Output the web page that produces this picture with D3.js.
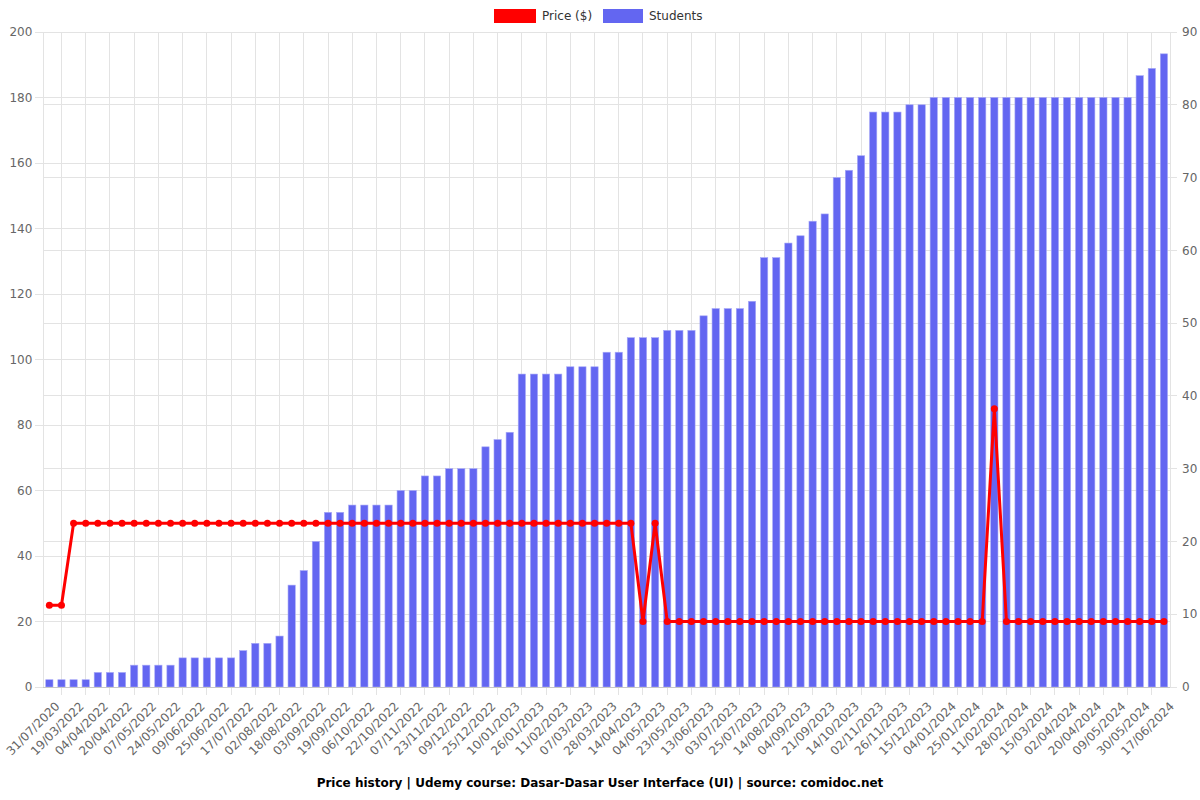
<!DOCTYPE html>
<html><head><meta charset="utf-8">
<script src="https://cdn.jsdelivr.net/npm/d3@7/dist/d3.min.js"></script>
<style>
body{margin:0;background:#fff;}
svg{display:block;font-family:"DejaVu Sans",sans-serif;}
</style></head>
<body><svg id="c" width="1200" height="800"></svg>
<script>
// Labels shown on every second category (indices 0,2,4,...,92)
const dateLabels = ["31/07/2020","19/03/2022","04/04/2022","20/04/2022","07/05/2022","24/05/2022","09/06/2022","25/06/2022","17/07/2022","02/08/2022","18/08/2022","03/09/2022","19/09/2022","06/10/2022","22/10/2022","07/11/2022","23/11/2022","09/12/2022","25/12/2022","10/01/2023","26/01/2023","11/02/2023","07/03/2023","28/03/2023","14/04/2023","04/05/2023","23/05/2023","13/06/2023","03/07/2023","25/07/2023","14/08/2023","04/09/2023","21/09/2023","14/10/2023","02/11/2023","26/11/2023","15/12/2023","04/01/2024","25/01/2024","11/02/2024","28/02/2024","15/03/2024","02/04/2024","20/04/2024","09/05/2024","30/05/2024","17/06/2024"];

const students = [1,1,1,1,2,2,2,3,3,3,3,4,4,4,4,4,5,6,6,7,14,16,20,24,24,25,25,25,25,27,27,29,29,30,30,30,33,34,35,43,43,43,43,44,44,44,46,46,48,48,48,49,49,49,51,52,52,52,53,59,59,61,62,64,65,70,71,73,79,79,79,80,80,81,81,81,81,81,81,81,81,81,81,81,81,81,81,81,81,81,84,85,87];

const price = [25,25,50,50,50,50,50,50,50,50,50,50,50,50,50,50,50,50,50,50,50,50,50,50,50,50,50,50,50,50,50,50,50,50,50,50,50,50,50,50,50,50,50,50,50,50,50,50,50,20,50,20,20,20,20,20,20,20,20,20,20,20,20,20,20,20,20,20,20,20,20,20,20,20,20,20,20,20,85,20,20,20,20,20,20,20,20,20,20,20,20,20,20];

const leftTicks = [0,20,40,60,80,100,120,140,160,180,200];
const rightTicks = [0,10,20,30,40,50,60,70,80,90];
const seriesNames = ["Price ($)","Students"];
const title = "Price history | Udemy course: Dasar-Dasar User Interface (UI) | source: comidoc.net";

const svg = d3.select("#c");
const L = 43.3, R = 1170, T = 32, B = 687;
const idx = d3.range(students.length);
const x = d3.scaleBand().domain(idx).range([L, R]).padding(0);
const cx = i => x(i) + x.bandwidth()/2;
const yL = d3.scaleLinear().domain([0,200]).range([B,T]);
const yR = d3.scaleLinear().domain([0,90]).range([B,T]);
const grid = "#e3e3e3";

// horizontal grid (left axis)
svg.append("g").selectAll("line").data(leftTicks).join("line")
  .attr("x1", L-8).attr("x2", R).attr("y1", d=>yL(d)).attr("y2", d=>yL(d))
  .attr("stroke", grid).attr("stroke-width",1).attr("shape-rendering","crispEdges");
// horizontal grid (right axis)
svg.append("g").selectAll("line").data(rightTicks).join("line")
  .attr("x1", L).attr("x2", R+7).attr("y1", d=>yR(d)).attr("y2", d=>yR(d))
  .attr("stroke", grid).attr("stroke-width",1).attr("shape-rendering","crispEdges");
// vertical grid at odd categories + plot edges
const vIdx = idx.filter(i => i % 2 === 1);
svg.append("g").selectAll("line").data(vIdx).join("line")
  .attr("x1", d=>cx(d)).attr("x2", d=>cx(d)).attr("y1", T).attr("y2", B+8)
  .attr("stroke", grid).attr("stroke-width",1).attr("shape-rendering","crispEdges");
svg.append("g").selectAll("line").data([L,R]).join("line")
  .attr("x1", d=>d).attr("x2", d=>d).attr("y1", T).attr("y2", B)
  .attr("stroke", grid).attr("stroke-width",1).attr("shape-rendering","crispEdges");

// bars
const bw = x.bandwidth()*0.6;
svg.append("g").selectAll("rect").data(students).join("rect")
  .attr("x", (d,i)=>cx(i)-bw/2).attr("width", bw)
  .attr("y", d=>yR(d)).attr("height", d=>B-yR(d))
  .attr("fill", "#6366f1").attr("stroke","#a7a9f7").attr("stroke-width",0.6);

// x axis line
svg.append("line").attr("x1",L).attr("x2",R).attr("y1",B).attr("y2",B)
  .attr("stroke","#c8c8c8").attr("stroke-width",1).attr("shape-rendering","crispEdges");

// price line
const line = d3.line().x((d,i)=>cx(i)).y(d=>yL(d));
svg.append("path").datum(price).attr("d", line)
  .attr("fill","none").attr("stroke","#ff0000").attr("stroke-width",3).attr("stroke-linejoin","miter");
svg.append("g").selectAll("circle").data(price).join("circle")
  .attr("cx",(d,i)=>cx(i)).attr("cy",d=>yL(d)).attr("r",3.5).attr("fill","#ff0000");

// y axis labels
svg.append("g").selectAll("text").data(leftTicks).join("text")
  .attr("x", L-11).attr("y", d=>yL(d)).attr("dy","0.35em").attr("text-anchor","end")
  .attr("font-size",12).attr("fill","#666").text(d=>d);
svg.append("g").selectAll("text").data(rightTicks).join("text")
  .attr("x", R+12).attr("y", d=>yR(d)).attr("dy","0.35em").attr("text-anchor","start")
  .attr("font-size",12).attr("fill","#666").text(d=>d);

// x labels
const lblIdx = idx.filter(i => i % 2 === 0);
svg.append("g").selectAll("text").data(lblIdx).join("text")
  .attr("transform", i => `translate(${cx(i)+8},${B+17}) rotate(-45)`)
  .attr("dy","0.35em").attr("text-anchor","end").attr("font-size",12).attr("fill","#666")
  .text(i => dateLabels[i/2]);

// legend
const lg = svg.append("g");
const legendColors = ["#ff0000","#6366f1"];
const legendX = [494, 603];
seriesNames.forEach((n,k)=>{
  lg.append("rect").attr("x",legendX[k]).attr("y",9).attr("width",k===0?42:40).attr("height",14)
    .attr("fill",legendColors[k]);
  lg.append("text").attr("x",legendX[k]+(k===0?48:46)).attr("y",16).attr("dy","0.35em")
    .attr("font-size",12).attr("fill","#333").text(n);
});

// title
svg.append("text").attr("x",600).attr("y",783).attr("dy","0.35em").attr("text-anchor","middle")
  .attr("font-size",12).attr("font-weight","bold").attr("fill","#000").text(title);
</script></body></html>
